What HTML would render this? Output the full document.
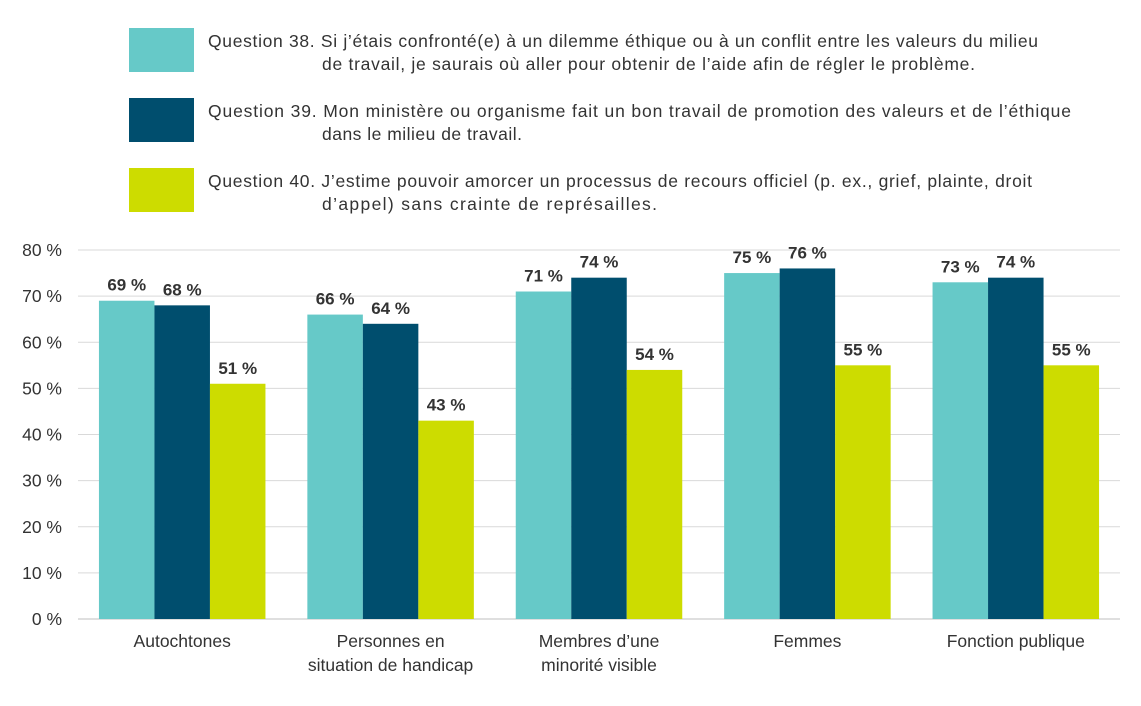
<!DOCTYPE html>
<html><head><meta charset="utf-8"><style>
body{margin:0;background:#fff;width:1141px;height:701px;overflow:hidden;font-family:"Liberation Sans",sans-serif;}
svg text{font-family:"Liberation Sans",sans-serif;fill:#333;}
</style></head><body>
<svg id="chart" width="1141" height="701">
<g id="legend">
<g>
<rect x="129" y="28" width="65" height="44" fill="#66c9c8"/>
<text x="208" y="47" font-size="17.5" textLength="830" lengthAdjust="spacing">Question 38. Si j’étais confronté(e) à un dilemme éthique ou à un conflit entre les valeurs du milieu</text>
<text x="322" y="70" font-size="17.5" textLength="653" lengthAdjust="spacing">de travail, je saurais où aller pour obtenir de l’aide afin de régler le problème.</text>
</g>
<g>
<rect x="129" y="98" width="65" height="44" fill="#004e6e"/>
<text x="208" y="117" font-size="17.5" textLength="863" lengthAdjust="spacing">Question 39. Mon ministère ou organisme fait un bon travail de promotion des valeurs et de l’éthique</text>
<text x="322" y="140" font-size="17.5" textLength="200" lengthAdjust="spacing">dans le milieu de travail.</text>
</g>
<g>
<rect x="129" y="168" width="65" height="44" fill="#cddc00"/>
<text x="208" y="187" font-size="17.5" textLength="824" lengthAdjust="spacing">Question 40. J’estime pouvoir amorcer un processus de recours officiel (p. ex., grief, plainte, droit</text>
<text x="322" y="210" font-size="17.5" textLength="335" lengthAdjust="spacing">d’appel) sans crainte de représailles.</text>
</g>
</g>
<g id="grid"></g><g id="bars"></g><g id="labels"></g>
</svg>
<script>
const categories=[["Autochtones"],["Personnes en","situation de handicap"],["Membres d’une","minorité visible"],["Femmes"],["Fonction publique"]];
const q38=[69,66,71,75,73];
const q39=[68,64,74,76,74];
const q40=[51,43,54,55,55];
const yTicks=[0,10,20,30,40,50,60,70,80];
const series=[q38,q39,q40];
const seriesNames=["q38","q39","q40"];
const colors=["#66c9c8","#004e6e","#cddc00"];
const NS="http://www.w3.org/2000/svg";
const plotL=78,plotR=1120,y0=619,y80=250;
const yScale=v=>y0-(v/80)*(y0-y80);
const gw=(plotR-plotL)/categories.length,bw=55.5;
const xGroup=i=>plotL+gw*i+gw/2;
function mk(t,a,p,txt){const e=document.createElementNS(NS,t);for(const k in a)e.setAttribute(k,a[k]);if(txt!==undefined)e.textContent=txt;p.appendChild(e);return e;}
const grid=document.getElementById('grid'),bars=document.getElementById('bars'),labels=document.getElementById('labels');
yTicks.forEach(t=>{
 const y=yScale(t);
 const l=mk('line',{x1:plotL,x2:plotR,y1:y,y2:y,stroke:t===0?'#bfbfbf':'#d9d9d9','stroke-width':1},grid);
 
 
 const tx=mk('text',{x:62,y:y+6,'font-size':17.5,'text-anchor':'end'},grid,t+' %');
 
 
});
categories.forEach((c,i)=>{
 const cx=xGroup(i);
 series.forEach((s,j)=>{
  const x=cx-1.5*bw+j*bw,y=yScale(s[i]);
  const r=mk('rect',{x:x,y:y,width:bw,height:y0-y,fill:colors[j]},bars);
  
  
  const v=mk('text',{x:x+bw/2,y:y-10,'font-size':17,'font-weight':'bold','text-anchor':'middle'},labels,s[i]+' %');
  
  
 });
 c.forEach((line,k)=>{
  const t=mk('text',{x:cx,y:647+k*24,'font-size':17.5,'text-anchor':'middle'},labels,line);
  
  
 });
});
</script>
</body></html>
